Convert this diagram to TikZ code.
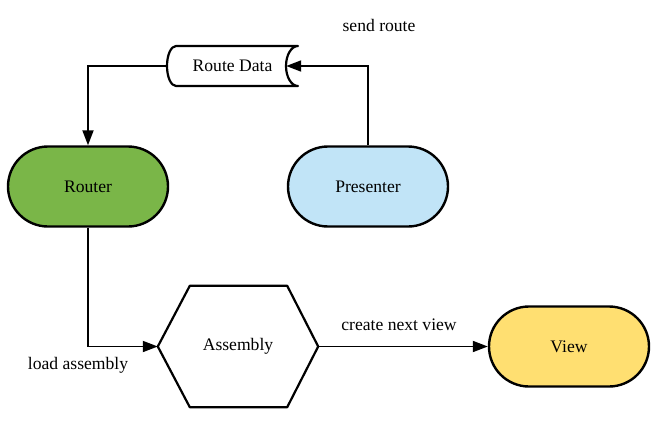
\documentclass[tikz,border=0pt]{standalone}
\usepackage{fontspec}
\setmainfont{Liberation Serif}
\usetikzlibrary{arrows.meta,shapes.misc,calc}
\definecolor{rgreen}{HTML}{7AB648}
\definecolor{pblue}{HTML}{C1E4F7}
\definecolor{vyellow}{HTML}{FFDF71}
\tikzset{
  stadium/.style={rounded rectangle, draw=black, line width=2.4pt, minimum width=160pt, minimum height=80pt, inner sep=0pt},
  conn/.style={line width=1.8pt, -{Triangle[length=15pt,width=11pt]}},
  lbl/.style={inner sep=0pt},
  shapeline/.style={draw=black, line width=2.2pt, line join=round}
}
\begin{document}
\begin{tikzpicture}[x=1pt,y=-1pt, font=\fontsize{17.6}{20}\selectfont]
\useasboundingbox (0,0) rectangle (669,428);
\fill[white] (0,0) rectangle (669,428);
% nodes
\node[stadium, fill=rgreen] (router) at (88,186.5) {Router};
\node[stadium, fill=pblue] (pres) at (368,186.5) {Presenter};
\node[stadium, fill=vyellow] (view) at (569,346.5) {View};
% Route Data (stored data shape)
\node[minimum width=131pt, minimum height=40pt, inner sep=0pt] (rd) at (232.5,66) {};
\filldraw[shapeline, fill=white] (176,46) -- (298,46)
  .. controls (291.37,46) and (286,54.95) .. (286,66)
  .. controls (286,77.05) and (291.37,86) .. (298,86)
  -- (176,86)
  .. controls (171.03,86) and (167,77.05) .. (167,66)
  .. controls (167,54.95) and (171.03,46) .. (176,46) -- cycle;
\node[lbl] (rdtext) at (rd.center) {Route Data};
\coordinate (rdin) at ($(rd.east)+(-12,0)$);
% Assembly hexagon
\node[minimum width=160pt, minimum height=121pt, inner sep=0pt] (asm) at (238,346.5) {};
\filldraw[shapeline, fill=white] (asm.west) -- ($(asm.north west)+(32,0)$) -- ($(asm.north east)+(-31,0)$)
  -- (asm.east) -- ($(asm.south east)+(-31,0)$) -- ($(asm.south west)+(32,0)$) -- cycle;
\node[lbl] (asmtext) at (asm.center) {Assembly};
% connectors
\draw[conn] (rd.west) -| (router.north);
\draw[conn] (pres.north) |- (rdin);
\draw[conn] (router.south) |- (asm.west);
\draw[conn] (asm.east) -- (view.west);
% labels
\node[lbl] (l1) at (379,25) {send route};
\node[lbl] (l2) at (78,365) {load assembly};
\node[lbl] (l3) at (399,325) {create next view};
\end{tikzpicture}
\end{document}
